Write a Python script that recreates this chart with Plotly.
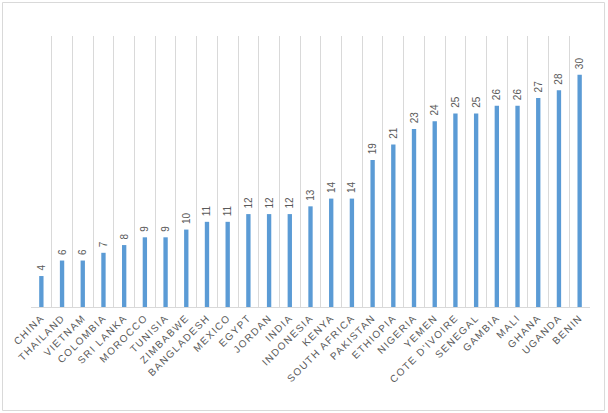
import plotly.graph_objects as go

countries = ["CHINA", "THAILAND", "VIETNAM", "COLOMBIA", "SRI LANKA", "MOROCCO", "TUNISIA",
             "ZIMBABWE", "BANGLADESH", "MEXICO", "EGYPT", "JORDAN", "INDIA", "INDONESIA",
             "KENYA", "SOUTH AFRICA", "PAKISTAN", "ETHIOPIA", "NIGERIA", "YEMEN",
             "COTE D'IVOIRE", "SENEGAL", "GAMBIA", "MALI", "GHANA", "UGANDA", "BENIN"]
values = [4, 6, 6, 7, 8, 9, 9, 10, 11, 11, 12, 12, 12, 13, 14, 14, 19, 21, 23, 24,
          25, 25, 26, 26, 27, 28, 30]

fig = go.Figure(go.Bar(
    x=countries, y=values,
    marker=dict(color="#5B9BD5", line=dict(width=0)),
    width=0.21,
    text=["\u00a0\u00a0" + str(v) for v in values],
    textposition="outside",
    textangle=-90,
    constraintext="none",
    textfont=dict(family="Liberation Sans", size=10, color="#595959"),
    cliponaxis=False,
))

fig.update_layout(
    width=608, height=413,
    margin=dict(l=31, r=18, t=36, b=106, autoexpand=False),
    paper_bgcolor="white", plot_bgcolor="white",
    showlegend=False,
    xaxis=dict(
        type="category",
        tickson="boundaries",
        automargin=False,
        showgrid=True, gridcolor="#D9D9D9", gridwidth=1,
        showline=True, linecolor="#D9D9D9", linewidth=1,
        ticks="", tickangle=-45,
        tickvals=countries,
        ticktext=['<span style="letter-spacing:1.4px">%s</span>' % c for c in countries],
        tickfont=dict(family="Liberation Sans", size=10, color="#595959"),
    ),
    yaxis=dict(
        range=[0, 35], showgrid=False, showticklabels=False, zeroline=False,
        showline=False, ticks="", automargin=False,
    ),
    shapes=[dict(type="rect", xref="paper", yref="paper",
                 x0=-0.051, x1=1.026, y0=-0.382, y1=1.1236,
                 line=dict(color="#D9D9D9", width=1), layer="below")],
)

fig.write_html("out.html",
               config={"displayModeBar": False},
               post_script="document.body.style.margin='0px';document.body.style.overflow='hidden';")
